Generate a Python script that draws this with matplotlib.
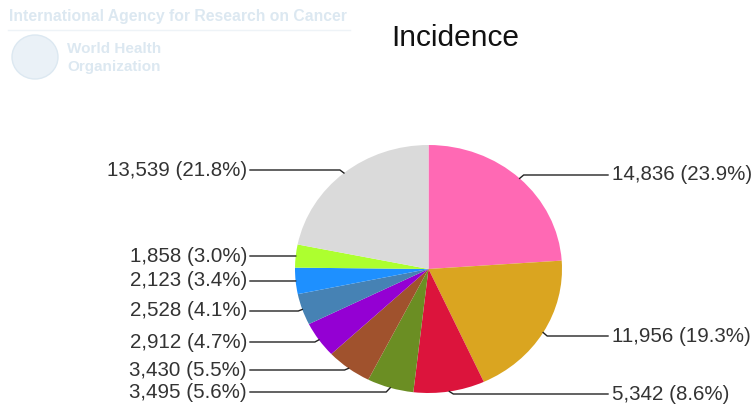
import numpy as np
import matplotlib
matplotlib.use("Agg")
import matplotlib.pyplot as plt
from matplotlib.lines import Line2D
from matplotlib.patches import Ellipse

plt.rcParams["font.family"] = ["Liberation Sans", "DejaVu Sans"]

# incidence counts, clockwise from 12 o'clock
counts = [14836, 11956, 5342, 3495, 3430, 2912, 2528, 2123, 1858, 13539]
colors = ["#ff69b4", "#daa520", "#dc143c", "#6b8e23", "#a0522d",
          "#9400d3", "#4682b4", "#1e90ff", "#adff2f", "#dadada"]

# label rows (pixel y from top) and which side they sit on
label_y = [175, 336, 394, 392, 370, 342, 311, 281, 256, 170]
label_side = [1, 1, 1, -1, -1, -1, -1, -1, -1, -1]

W, H = 751, 409
fig = plt.figure(figsize=(W / 100, H / 100), dpi=100)
fig.patch.set_facecolor("white")


def px(x, y):
    return x / W, 1 - y / H


# pie is slightly wider than tall
cx, cy, rx, ry = 428.5, 269, 133.5, 124
ax = fig.add_axes([(cx - rx) / W, (H - cy - ry) / H, 2 * rx / W, 2 * ry / H])
wedges, _ = ax.pie(counts, colors=colors, startangle=90, counterclock=False,
                   radius=1, wedgeprops=dict(linewidth=0))
ax.set_xlim(-1, 1)
ax.set_ylim(-1, 1)
ax.set_aspect("auto")
ax.axis("off")

total = sum(counts)
for w, n, ly, side in zip(wedges, counts, label_y, label_side):
    mid = np.deg2rad((w.theta1 + w.theta2) / 2)
    ex, ey = ax.transData.transform((np.cos(mid), np.sin(mid)))
    ey = H - ey
    if side > 0:
        tx = 608
        xs = [ex, ex + 4, tx]
    else:
        tx = 250
        xs = [ex, ex - 4, tx]
    ys = [ey, ly, ly]
    fx = [x / W for x in xs]
    fy = [1 - y / H for y in ys]
    fig.add_artist(Line2D(fx, fy, color="#222222", lw=1.0,
                          transform=fig.transFigure))
    txt = f"{n:,} ({100 * n / total:.1f}%)"
    if side > 0:
        fig.text(*px(tx + 4, ly), txt, ha="left", va="center",
                 fontsize=14.8, color="#333333")
    else:
        fig.text(*px(tx - 3, ly), txt, ha="right", va="center",
                 fontsize=14.8, color="#333333")

fig.text(*px(455, 38), "Incidence", ha="center", va="center",
         fontsize=21.5, color="#111111")

# faint agency header
faint = "#dce8f1"
fig.text(*px(9, 17), "International Agency for Research on Cancer",
         ha="left", va="center", fontsize=11.3, fontweight="bold", color=faint)
fig.add_artist(Line2D([8 / W, 350 / W], [1 - 30 / H, 1 - 30 / H],
                      color="#eef3f7", lw=1, transform=fig.transFigure))
fig.add_artist(Ellipse(px(35, 57), 46 / W, 44 / H, facecolor="#eaf1f7",
                       edgecolor=faint, lw=1, transform=fig.transFigure))
fig.text(*px(67, 49), "World Health", ha="left", va="center",
         fontsize=11, fontweight="bold", color=faint)
fig.text(*px(67, 67), "Organization", ha="left", va="center",
         fontsize=11, fontweight="bold", color=faint)

fig.savefig("out.png", dpi=100, facecolor="white")
